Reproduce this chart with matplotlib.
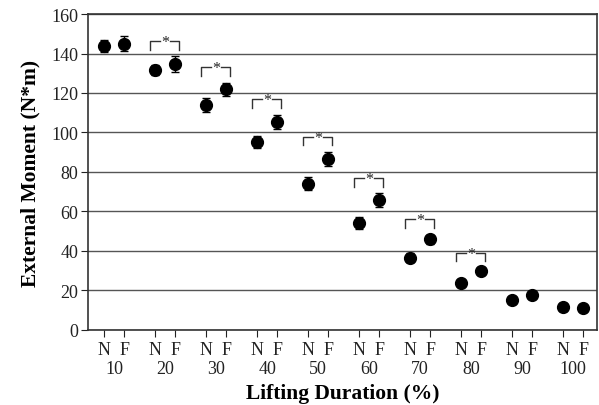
import numpy as np
import matplotlib.pyplot as plt

plt.rcParams['font.family'] = ['Liberation Serif', 'DejaVu Serif']

durations = ["10", "20", "30", "40", "50", "60", "70", "80", "90", "100"]
normal_mean = [143.8, 131.8, 114.0, 95.0, 74.1, 54.2, 36.5, 24.0, 15.1, 11.8]
normal_err = [3.0, 2.5, 3.5, 3.0, 3.2, 3.0, 2.2, 1.5, 1.2, 2.0]
fatigue_mean = [145.0, 134.5, 121.8, 105.5, 86.4, 65.6, 45.8, 29.7, 17.9, 11.3]
fatigue_err = [3.7, 4.0, 3.5, 3.5, 3.6, 3.5, 2.5, 1.5, 1.2, 1.2]
significant = [False, True, True, True, True, True, True, True, False, False]

fig = plt.figure(figsize=(5.99, 4.06), dpi=100)
ax = fig.add_axes([0.147, 0.185, 0.85, 0.778])

x = np.arange(len(durations))
off = 0.2
ax.errorbar(x - off, normal_mean, yerr=normal_err, fmt='o', color='black',
            markersize=8.5, capsize=3, elinewidth=1, capthick=1, zorder=3)
ax.errorbar(x + off, fatigue_mean, yerr=fatigue_err, fmt='o', color='black',
            markersize=8.5, capsize=3, elinewidth=1, capthick=1, zorder=3)

# significance brackets
for i, sig in enumerate(significant):
    if not sig:
        continue
    base = max(normal_mean[i] + normal_err[i], fatigue_mean[i] + fatigue_err[i]) + 3.5
    top = base + 4.4
    l, r = i - 0.29, i + 0.27
    kw = dict(color='#333333', lw=1)
    ax.plot([l, l, i - 0.1], [base, top, top], **kw)
    ax.plot([i + 0.1, r, r], [top, top, base], **kw)
    ax.text(i, top - 0.6, '*', ha='center', va='center', fontsize=11.5, color='#222222')

ax.set_ylim(0, 160)
ax.set_xlim(-0.51, 9.47)
ax.set_yticks(range(0, 161, 20))
ax.yaxis.grid(True, color='#555555', lw=1)
ax.set_axisbelow(True)

ticks = np.concatenate([x - off, x + off])
ax.set_xticks(ticks)
ax.set_xticklabels(['N'] * len(x) + ['F'] * len(x))
ax.set_xticks(x, minor=True)
ax.set_xticklabels(durations, minor=True)
ax.tick_params(labelsize=13, colors='#222222', which='both')
ax.tick_params(axis='x', which='minor', length=0, pad=21.5)
ax.tick_params(axis='x', which='major', length=5, pad=3, direction='out')
ax.tick_params(axis='y', length=5, pad=2, direction='out')

for s in ax.spines.values():
    s.set_color('#333333')
    s.set_linewidth(1.2)

ax.set_xlabel('Lifting Duration (%)', fontsize=15.5, fontweight='bold', labelpad=4.5)
ax.set_ylabel('External Moment (N*m)', fontsize=15.5, fontweight='bold', labelpad=8)

fig.savefig('out.png', dpi=100)
